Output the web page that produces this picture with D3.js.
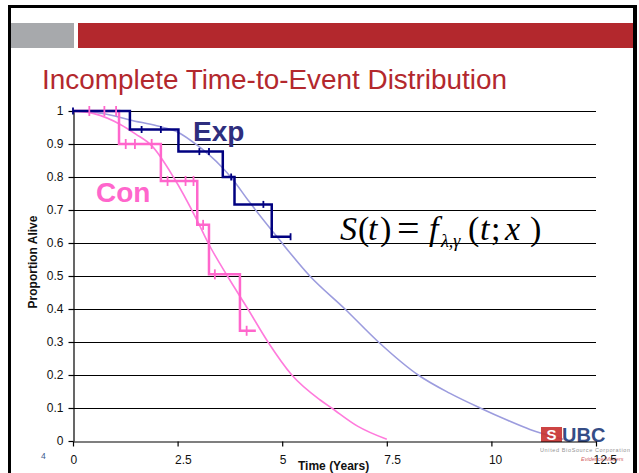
<!DOCTYPE html>
<html><head><meta charset="utf-8">
<script src="https://cdn.jsdelivr.net/npm/d3@7"></script>
<style>body{margin:0;background:#fff;} svg{display:block;font-family:"Liberation Sans",Arial,sans-serif;}</style>
</head><body>
<svg id="c" width="639" height="473"></svg>
<script>
// ---- data ----
const xTicks = [0, 2.5, 5, 7.5, 10, 12.5];
const xTickLabels = ["0", "2.5", "5", "7.5", "10", "12.5"];
const yTicks = [0, 0.1, 0.2, 0.3, 0.4, 0.5, 0.6, 0.7, 0.8, 0.9, 1];
const yTickLabels = ["0", "0.1", "0.2", "0.3", "0.4", "0.5", "0.6", "0.7", "0.8", "0.9", "1"];

// Kaplan-Meier steps (time, survival)
const expStepT = [0, 1.36, 2.52, 3.58, 3.86, 4.75, 5.2];
const expStepS = [1, 0.944, 0.877, 0.80, 0.717, 0.619, 0.619];
const conStepT = [0, 1.10, 2.10, 2.97, 3.25, 3.99, 4.37];
const conStepS = [1, 0.90, 0.788, 0.655, 0.505, 0.334, 0.334];

// censor marks
const expCensT = [0, 1.64, 2.10, 3.02, 3.25, 3.78, 4.55, 5.2];
const expCensS = [1, 0.944, 0.944, 0.877, 0.877, 0.80, 0.717, 0.619];
const conCensT = [0.39, 0.75, 1.03, 1.26, 1.48, 1.88, 2.26, 2.69, 2.88, 3.11, 3.39, 4.15];
const conCensS = [1, 1, 1, 0.90, 0.90, 0.90, 0.788, 0.788, 0.788, 0.655, 0.505, 0.334];

// fitted (model) curves
const expFitT = [0, 0.5, 1.0, 1.36, 2.0, 2.52, 2.96, 3.55, 3.79, 4.2, 4.9, 5.66, 6.5, 7.3, 8.25, 9.0, 9.73, 10.4, 10.92, 11.72];
const expFitS = [1, 0.996, 0.985, 0.973, 0.955, 0.935, 0.897, 0.831, 0.797, 0.727, 0.615, 0.50, 0.40, 0.30, 0.20, 0.145, 0.10, 0.062, 0.035, 0.005];
const conFitT = [0, 0.5, 1.12, 1.5, 1.88, 2.4, 2.96, 3.23, 3.69, 4.18, 4.66, 5.23, 5.9, 6.18, 6.8, 7.5];
const conFitS = [1, 0.992, 0.96, 0.93, 0.895, 0.80, 0.67, 0.60, 0.50, 0.40, 0.30, 0.20, 0.125, 0.10, 0.045, 0.005];

// ---- drawing ----
const svg = d3.select("#c");
const x = d3.scaleLinear().domain([0, 12.5]).range([73, 596]);
const y = d3.scaleLinear().domain([0, 1]).range([441, 111]);

// slide frame & header
svg.append("rect").attr("x", 0).attr("y", 0).attr("width", 639).attr("height", 473).attr("fill", "#fff");
svg.append("rect").attr("x", 8).attr("y", 5).attr("width", 629).attr("height", 3).attr("fill", "#000");
svg.append("rect").attr("x", 8).attr("y", 5).attr("width", 3).attr("height", 468).attr("fill", "#000");
svg.append("rect").attr("x", 633).attr("y", 5).attr("width", 4).attr("height", 468).attr("fill", "#000");
svg.append("rect").attr("x", 11).attr("y", 23).attr("width", 63).attr("height", 25).attr("fill", "#A7A9AC");
svg.append("rect").attr("x", 78).attr("y", 23).attr("width", 555).attr("height", 25).attr("fill", "#B3282D");
svg.append("text").attr("x", 42).attr("y", 89).attr("font-size", 27.5).attr("fill", "#B3282D")
  .attr("textLength", 465).attr("lengthAdjust", "spacingAndGlyphs")
  .text("Incomplete Time-to-Event Distribution");

// gridlines
svg.append("g").selectAll("line").data(yTicks.filter(d => d > 0)).join("line")
  .attr("x1", x(0)).attr("x2", x(12.5))
  .attr("y1", d => Math.round(y(d)) + 0.5).attr("y2", d => Math.round(y(d)) + 0.5)
  .attr("stroke", "#000").attr("stroke-width", 1.2);

// axes
const yAxis = svg.append("g").attr("transform", "translate(73.5,0)")
  .call(d3.axisLeft(y).tickValues(yTicks).tickSize(5).tickSizeOuter(0).tickPadding(5)
    .tickFormat((d, i) => yTickLabels[i]));
yAxis.selectAll("text").attr("font-size", 12).attr("fill", "#111").attr("font-family", "Liberation Sans, Arial, sans-serif");
yAxis.selectAll("line,path").attr("stroke", "#000").attr("stroke-width", 1.2);

const xAxis = svg.append("g").attr("transform", "translate(0,441.5)")
  .call(d3.axisBottom(x).tickValues(xTicks).tickSize(5).tickSizeOuter(0)
    .tickFormat((d, i) => xTickLabels[i]));
xAxis.selectAll("text").attr("font-size", 12).attr("fill", "#111").attr("font-family", "Liberation Sans, Arial, sans-serif")
  .attr("text-anchor", "start").attr("x", -3).attr("y", 22.5).attr("dy", null);
xAxis.selectAll("line,path").attr("stroke", "#000").attr("stroke-width", 1.2);

// axis titles
svg.append("text").attr("transform", "translate(37,262) rotate(-90)").attr("text-anchor", "middle")
  .attr("font-size", 12).attr("font-weight", "bold").attr("fill", "#111").text("Proportion Alive");
svg.append("text").attr("x", 298).attr("y", 470).attr("font-size", 12).attr("font-weight", "bold")
  .attr("fill", "#111").text("Time (Years)");
svg.append("text").attr("x", 41).attr("y", 459).attr("font-size", 8.5).attr("fill", "#3C5A8C").text("4");

// fitted curves
const fitLine = d3.line().x(d => x(d[0])).y(d => y(d[1])).curve(d3.curveMonotoneX);
svg.append("path").datum(expFitT.map((t, i) => [t, expFitS[i]])).attr("d", fitLine)
  .attr("fill", "none").attr("stroke", "#9C9CDE").attr("stroke-width", 1.6);
svg.append("path").datum(conFitT.map((t, i) => [t, conFitS[i]])).attr("d", fitLine)
  .attr("fill", "none").attr("stroke", "#FF7ADC").attr("stroke-width", 1.6);

// KM steps
const stepLine = d3.line().x(d => x(d[0])).y(d => y(d[1])).curve(d3.curveStepAfter);
svg.append("path").datum(conStepT.map((t, i) => [t, conStepS[i]])).attr("d", stepLine)
  .attr("fill", "none").attr("stroke", "#FF66CC").attr("stroke-width", 2.5);
svg.append("path").datum(expStepT.map((t, i) => [t, expStepS[i]])).attr("d", stepLine)
  .attr("fill", "none").attr("stroke", "#000080").attr("stroke-width", 2.5);

// censor marks
svg.append("g").selectAll("line").data(conCensT.map((t, i) => [t, conCensS[i]])).join("line")
  .attr("x1", d => x(d[0])).attr("x2", d => x(d[0]))
  .attr("y1", d => y(d[1]) - 5).attr("y2", d => y(d[1]) + 5)
  .attr("stroke", "#FF66CC").attr("stroke-width", 1.8);
svg.append("g").selectAll("line").data(expCensT.map((t, i) => [t, expCensS[i]])).join("line")
  .attr("x1", d => x(d[0])).attr("x2", d => x(d[0]))
  .attr("y1", d => y(d[1]) - 3.5).attr("y2", d => y(d[1]) + 3.5)
  .attr("stroke", "#000080").attr("stroke-width", 1.8);

// labels
svg.append("text").attr("x", 193).attr("y", 141).attr("font-size", 28).attr("font-weight", "bold")
  .attr("fill", "#2E2E7E").text("Exp");
svg.append("text").attr("x", 96).attr("y", 202).attr("font-size", 28).attr("font-weight", "bold")
  .attr("fill", "#FF66CC").text("Con");

// formula
const f = svg.append("text").attr("font-family", "Liberation Serif, Times New Roman, serif").attr("fill", "#000");
const glyphs = [
  ["S", 340, true, 34, 240], ["(", 358, false, 34, 240], ["t", 368, true, 34, 240], [")", 380, false, 34, 240],
  ["=", 397, false, 40, 242], ["f", 429, true, 34, 240], ["λ,γ", 441, true, 18, 247],
  ["(", 468, false, 34, 240], ["t", 480, true, 34, 240], [";", 491, false, 34, 240],
  ["x", 505, true, 34, 240], [")", 530, false, 34, 240]
];
glyphs.forEach(g => {
  f.append("tspan").attr("x", g[1]).attr("y", g[4]).attr("font-style", g[2] ? "italic" : "normal")
    .attr("font-size", g[3]).text(g[0]);
});

// logo
const logo = svg.append("g").attr("opacity", 0.9);
logo.append("rect").attr("x", 541).attr("y", 427).attr("width", 21).attr("height", 15).attr("fill", "#C8302F");
logo.append("text").attr("x", 551.5).attr("y", 440).attr("text-anchor", "middle").attr("font-size", 15)
  .attr("font-weight", "bold").attr("fill", "#fff").text("S");
logo.append("text").attr("x", 562).attr("y", 442).attr("font-size", 20).attr("font-weight", "bold")
  .attr("fill", "#1F3A7A").text("UBC");
logo.append("text").attr("x", 540).attr("y", 452).attr("font-size", 5.5).attr("fill", "#888")
  .attr("textLength", 90).text("United BioSource Corporation");
logo.append("text").attr("x", 581).attr("y", 461).attr("font-size", 5.5).attr("font-style", "italic")
  .attr("fill", "#D05050").text("Evidence Matters");

// keep 12.5 label above logo
xAxis.raise();
</script>
</body></html>
